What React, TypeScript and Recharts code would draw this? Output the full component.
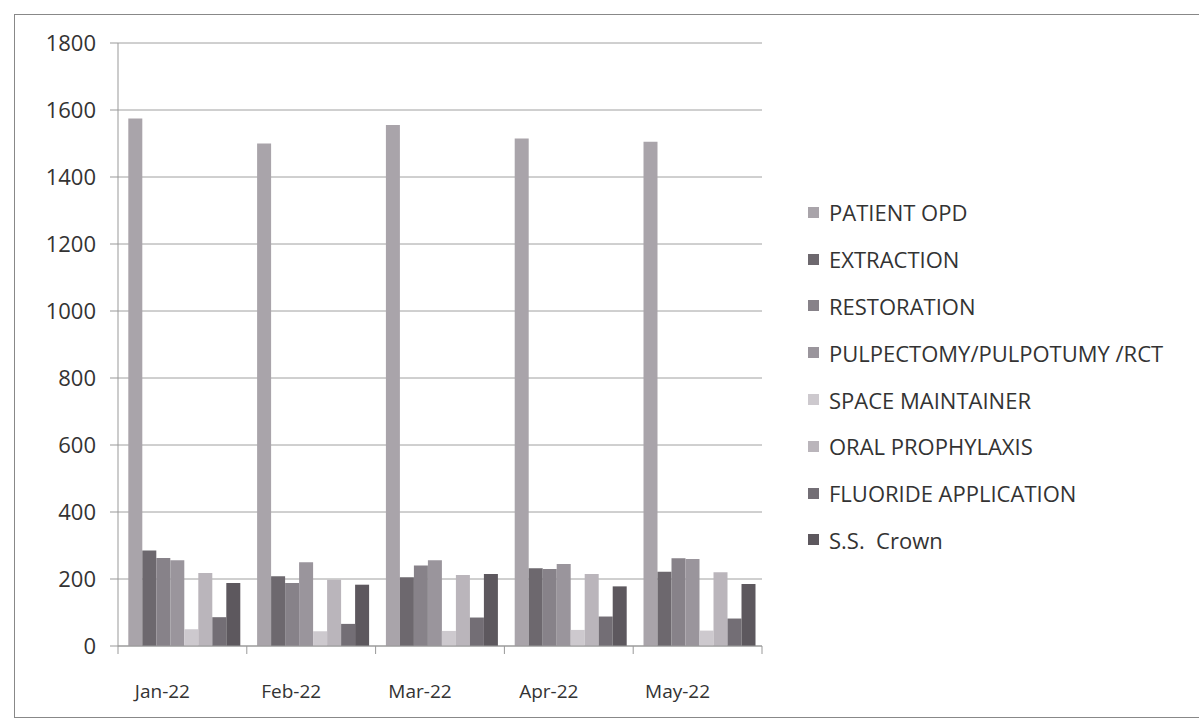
import React from 'react';
import { BarChart, Bar, XAxis, YAxis, CartesianGrid } from 'recharts';

const months = ['Jan-22', 'Feb-22', 'Mar-22', 'Apr-22', 'May-22'];
const patientOpd = [1575, 1500, 1555, 1515, 1505];
const extraction = [285, 208, 205, 232, 222];
const restoration = [263, 188, 240, 230, 262];
const pulpectomy = [256, 250, 256, 245, 260];
const spaceMaintainer = [50, 44, 45, 48, 46];
const oralProphylaxis = [218, 198, 212, 215, 220];
const fluoride = [86, 66, 85, 88, 82];
const ssCrown = [188, 183, 215, 178, 185];
const yTicks = [0, 200, 400, 600, 800, 1000, 1200, 1400, 1600, 1800];

const series = [
  { key: 'opd', name: 'PATIENT OPD', values: patientOpd, color: '#a9a4aa' },
  { key: 'ext', name: 'EXTRACTION', values: extraction, color: '#6d686e' },
  { key: 'res', name: 'RESTORATION', values: restoration, color: '#878289' },
  { key: 'pul', name: 'PULPECTOMY/PULPOTUMY /RCT', values: pulpectomy, color: '#9a959c' },
  { key: 'spc', name: 'SPACE MAINTAINER', values: spaceMaintainer, color: '#cdc9ce' },
  { key: 'ora', name: 'ORAL PROPHYLAXIS', values: oralProphylaxis, color: '#bab5bb' },
  { key: 'flu', name: 'FLUORIDE APPLICATION', values: fluoride, color: '#736e75' },
  { key: 'crn', name: 'S.S.  Crown', values: ssCrown, color: '#5d585e' },
];

const data = months.map((m, i) => {
  const row: Record<string, any> = { month: m };
  series.forEach((s) => {
    row[s.key] = s.values[i];
  });
  return row;
});

const FONT = '"Open Sans", "Noto Sans", sans-serif';
const BAND = 644 / months.length;

const MonthTick = (props: any) => {
  const { x, y, payload, index } = props;
  return (
    <g>
      <line x1={x - BAND / 2} y1={y - 8} x2={x - BAND / 2} y2={y} stroke="#999" />
      {index === months.length - 1 && (
        <line x1={x + BAND / 2} y1={y - 8} x2={x + BAND / 2} y2={y} stroke="#999" />
      )}
      <text x={x - 20} y={y + 44} textAnchor="middle" fill="#333" fontSize={19} fontFamily={FONT}>
        {payload.value}
      </text>
    </g>
  );
};

const LegendBox = () => (
  <div
    style={{
      position: 'absolute',
      left: 808,
      top: 189,
      fontFamily: FONT,
      fontSize: 22,
      color: '#333',
    }}
  >
    {series.map((s) => (
      <div key={s.key} style={{ height: 46.8, display: 'flex', alignItems: 'center' }}>
        <span
          style={{
            display: 'inline-block',
            width: 11,
            height: 11,
            background: s.color,
            marginRight: 10,
          }}
        />
        <span style={{ whiteSpace: 'pre' }}>{s.name}</span>
      </div>
    ))}
  </div>
);

export default function App() {
  return (
    <div style={{ position: 'absolute', left: 0, top: 0, width: 1199, height: 725, background: '#fff' }}>
      <div
        style={{
          position: 'absolute',
          left: 14,
          top: 14,
          width: 1199,
          height: 702,
          border: '1.5px solid #888',
        }}
      />
      <div style={{ position: 'absolute', left: 0, top: 0 }}>
        <BarChart
          width={1199}
          height={725}
          data={data}
          margin={{ top: 43, right: 437, bottom: 0, left: 0 }}
          barCategoryGap="8%"
          barGap={0}
        >
          <CartesianGrid vertical={false} stroke="#a0a0a0" />
          <XAxis
            dataKey="month"
            axisLine={{ stroke: '#999' }}
            tickLine={false}
            tick={<MonthTick />}
            interval={0}
            height={79}
          />
          <YAxis
            domain={[0, 1800]}
            ticks={yTicks}
            width={118}
            axisLine={{ stroke: '#999' }}
            tickLine={{ stroke: '#999' }}
            tickSize={8}
            tickMargin={14}
            tick={{ fill: '#333', fontSize: 22, fontFamily: FONT }}
          />
          {series.map((s) => (
            <Bar key={s.key} dataKey={s.key} name={s.name} fill={s.color} isAnimationActive={false} />
          ))}
        </BarChart>
      </div>
      <LegendBox />
    </div>
  );
}
